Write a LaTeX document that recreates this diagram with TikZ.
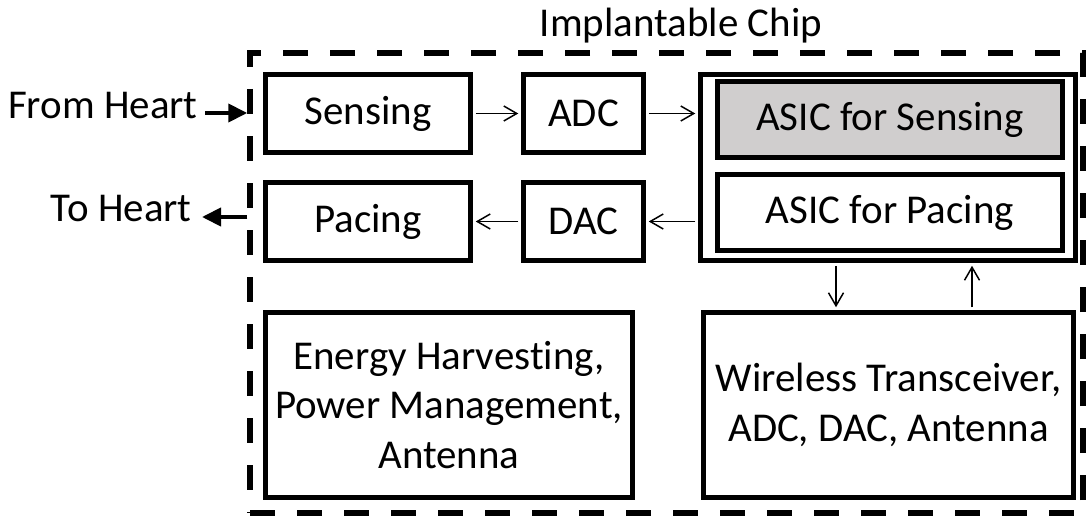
\documentclass[tikz,border=0pt]{standalone}
\usepackage{fontspec}
\setmainfont{Carlito}[Ligatures={NoCommon}]
\usepackage{xcolor}
\usetikzlibrary{arrows.meta,positioning,calc}

\definecolor{asicgray}{RGB}{208,206,206}

\begin{document}
\begin{tikzpicture}[
  every node/.style={font=\fontsize{23.3}{28.2}\selectfont},
  box/.style={draw, line width=0.11cm, align=center, inner sep=0pt},
  arr/.style={-{Straight Barb[length=2.6mm,width=3mm]}, line width=0.85pt,
              shorten >=0.5mm, shorten <=0.5mm},
  heart/.style={-{Triangle[length=3.8mm,width=3.6mm]}, line width=2.3pt},
  lbl/.style={inner sep=0pt}
]
\useasboundingbox (0,0) rectangle (21.72,10.36);

%--------------------------------------------------
% chip outline and title
%--------------------------------------------------
\node[draw, line width=0.11cm, dash pattern=on 0.5cm off 0.44cm,
      minimum width=16.66cm, minimum height=9.20cm] (chip) at (13.33,4.70) {};
\node[anchor=base] (title) at (13.62,9.62) {Implantable Chip};

%--------------------------------------------------
% signal path
%--------------------------------------------------
\node[box, minimum width=4.10cm, minimum height=1.56cm] (sensing) at (7.36,8.09) {Sensing};
\node[box, minimum width=2.40cm, minimum height=1.56cm] (adc) at (11.67,8.09) {ADC};
\node[box, minimum width=4.10cm, minimum height=1.56cm] (pacing) at (7.36,5.93) {Pacing};
\node[box, minimum width=2.40cm, minimum height=1.56cm] (dac) at (11.67,5.93) {DAC};

% asic block
\node[box, minimum width=7.50cm, minimum height=3.72cm] (asic) at (17.76,7.01) {};
\node[box, fill=asicgray, minimum width=6.90cm, minimum height=1.52cm] (asicsense) at (17.80,7.97) {ASIC for Sensing};
\node[box, minimum width=6.90cm, minimum height=1.52cm] (asicpace) at (17.80,6.11) {ASIC for Pacing};

%--------------------------------------------------
% bottom blocks
%--------------------------------------------------
\node[box, minimum width=7.34cm, minimum height=3.70cm] (energy) at (8.98,2.26) {
Energy Harvesting,\\
Power Management,\\
Antenna
};
\node[box, minimum width=7.40cm, minimum height=3.70cm] (wireless) at (17.77,2.26) {
Wireless Transceiver,\\
ADC, DAC, Antenna
};

%--------------------------------------------------
% heart connections
%--------------------------------------------------
\node[lbl, anchor=base east] (fromheart) at (3.96,7.98) {From Heart};
\node[lbl, anchor=base east] (toheart) at (3.84,5.92) {To Heart};

\coordinate (fromtail) at ([shift={(0.14,0.12)}]fromheart.base east);
\coordinate (totip) at ([shift={(0.2,0.10)}]toheart.base east);
\draw[heart] (fromtail) -- (fromtail -| chip.west);
\draw[heart] (totip -| chip.west) -- (totip);

%--------------------------------------------------
% arrows between boxes
%--------------------------------------------------
\draw[arr] (sensing.east) -- (adc.west);
\draw[arr] (adc.east) -- (adc.east -| asic.west);
\draw[arr] (asic.west |- dac.east) -- (dac.east);
\draw[arr] (dac.west) -- (pacing.east);
\draw[arr] ([xshift=-1.04cm]asic.south) -- ([xshift=-1.04cm]asic.south |- wireless.north);
\draw[arr] ([xshift=1.68cm]asic.south |- wireless.north) -- ([xshift=1.68cm]asic.south);

\end{tikzpicture}
\end{document}
